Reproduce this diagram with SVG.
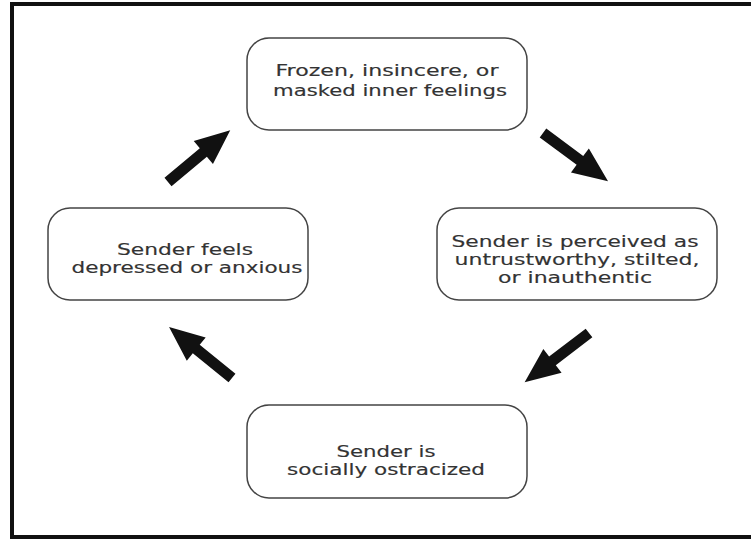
<svg xmlns="http://www.w3.org/2000/svg" xmlns:xlink="http://www.w3.org/1999/xlink" width="751" height="541" viewBox="0 0 751 541">
<style>
.box{fill:#fff;stroke:#444;stroke-width:1.5}
.t{font-family:"DejaVu Sans",Verdana,sans-serif;font-size:15px;fill:#333;stroke:#333;stroke-width:0.15;text-anchor:middle}
.arr{fill:#111}
</style>
<defs>
<path id="blk" d="M0,-5.5 H46 V-15 L81,0 L46,15 V5.5 H0 Z"/>
</defs>
<rect x="0" y="0" width="751" height="541" fill="#fff"/>
<rect x="12" y="4" width="760" height="533" fill="none" stroke="#111" stroke-width="4"/>
<g id="connectors" class="arr">
<use xlink:href="#blk" transform="translate(543,133) rotate(36.6)"/>
<use xlink:href="#blk" transform="translate(589,333) rotate(142.6)"/>
<use xlink:href="#blk" transform="translate(232,378) rotate(-141)"/>
<use xlink:href="#blk" transform="translate(168,182) rotate(-39.8)"/>
</g>
<g id="n1">
<rect class="box" x="247" y="38" width="280" height="92" rx="22"/>
<text class="t" x="387" y="76" textLength="223" lengthAdjust="spacingAndGlyphs">Frozen, insincere, or</text>
<text class="t" x="390" y="96" textLength="234" lengthAdjust="spacingAndGlyphs">masked inner feelings</text>
</g>
<g id="n2">
<rect class="box" x="437" y="208" width="280" height="92" rx="22"/>
<text class="t" x="575" y="247" textLength="247" lengthAdjust="spacingAndGlyphs">Sender is perceived as</text>
<text class="t" x="577" y="265" textLength="245" lengthAdjust="spacingAndGlyphs">untrustworthy, stilted,</text>
<text class="t" x="575" y="283" textLength="154" lengthAdjust="spacingAndGlyphs">or inauthentic</text>
</g>
<g id="n3">
<rect class="box" x="247" y="405" width="280" height="93" rx="22"/>
<text class="t" x="386" y="457" textLength="99" lengthAdjust="spacingAndGlyphs">Sender is</text>
<text class="t" x="386" y="475" textLength="198" lengthAdjust="spacingAndGlyphs">socially ostracized</text>
</g>
<g id="n4">
<rect class="box" x="48" y="208" width="260" height="92" rx="22"/>
<text class="t" x="185" y="255" textLength="136" lengthAdjust="spacingAndGlyphs">Sender feels</text>
<text class="t" x="187" y="273" textLength="231" lengthAdjust="spacingAndGlyphs">depressed or anxious</text>
</g>
</svg>
